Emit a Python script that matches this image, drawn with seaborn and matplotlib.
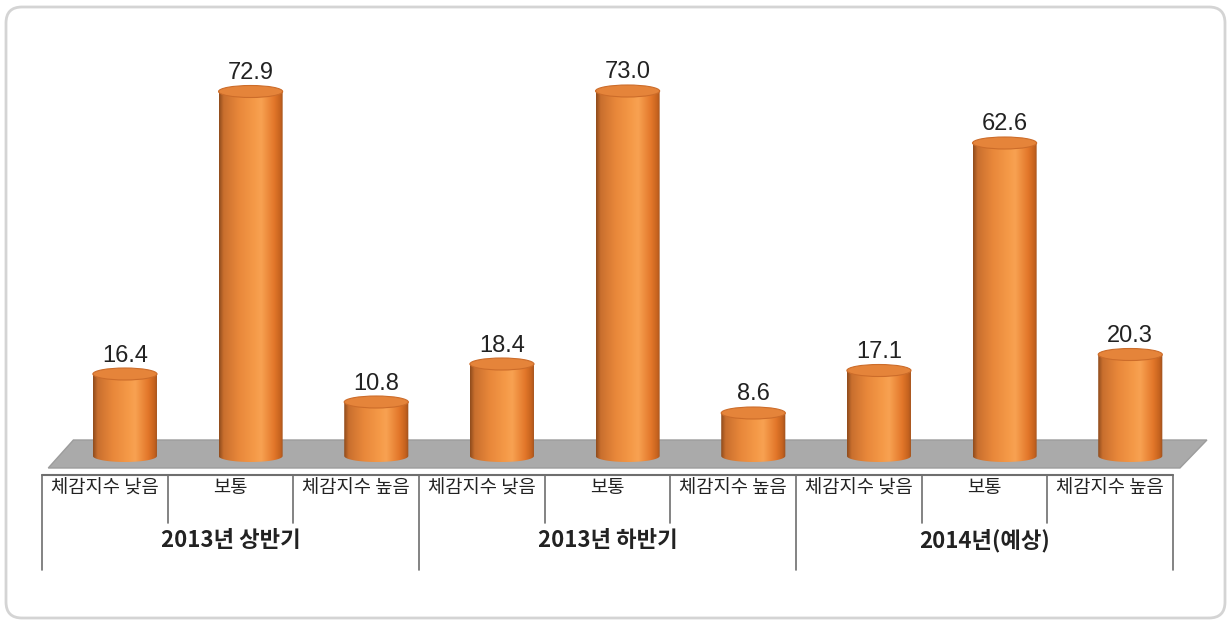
import numpy as np
import pandas as pd
import matplotlib
matplotlib.use('Agg')
import matplotlib.pyplot as plt
from matplotlib.patches import Ellipse, Polygon, FancyBboxPatch
from matplotlib.colors import LinearSegmentedColormap
import seaborn as sns

# data
groups = ['2013년 상반기', '2013년 하반기', '2014년(예상)']
levels = ['체감지수 낮음', '보통', '체감지수 높음']
values_2013_h1 = [16.4, 72.9, 10.8]
values_2013_h2 = [18.4, 73.0, 8.6]
values_2014 = [17.1, 62.6, 20.3]

rows = []
for g, vals in zip(groups, [values_2013_h1, values_2013_h2, values_2014]):
    for lv, v in zip(levels, vals):
        rows.append({'group': g, 'level': lv, 'key': g + '|' + lv, 'value': v})
df = pd.DataFrame(rows)

W, H = 1231, 625
sns.set_theme(style='white')
plt.rcParams['font.family'] = ['Noto Sans CJK KR', 'DejaVu Sans']

fig = plt.figure(figsize=(W / 100, H / 100), dpi=100)

# background with rounded frame (pixel coords)
bg = fig.add_axes([0, 0, 1, 1])
bg.set_xlim(0, W)
bg.set_ylim(H, 0)
bg.axis('off')
bg.add_patch(FancyBboxPatch((6, 7), W - 12, H - 14,
                            boxstyle='round,pad=0,rounding_size=16',
                            fc='white', ec='#d4d4d4', lw=2))

# main axes: 42..1173 px wide, 30..475 px tall
ax = fig.add_axes([42 / W, (H - 475) / H, 1131 / W, 445 / H])
sns.barplot(data=df, x='key', y='value', order=list(df['key']), width=0.51,
            color='#e8832f', errorbar=None, ax=ax, zorder=3)

shift = 0.16      # bars sit a bit right of the category centre (3D depth)
y_axis = -3.8     # data value at the category axis line
eh = 2.4          # ellipse height in data units

# floor
floor = Polygon([(-0.61, -2.4), (8.395, -2.4), (8.61, 3.2), (-0.41, 3.2)],
                closed=True, fc='#aaaaaa', ec='#9c9c9c', lw=1, zorder=1, clip_on=False)
ax.add_patch(floor)

cmap = LinearSegmentedColormap.from_list('cyl', [
    (0.0, '#8e4a1c'), (0.07, '#c96f2e'), (0.3, '#e8873a'), (0.55, '#f59a48'),
    (0.65, '#f8a252'), (0.85, '#e3772a'), (0.95, '#c4621e'), (1.0, '#9a4f1e')])
grad = np.linspace(0, 1, 256).reshape(1, -1)

for bar, v in zip(ax.patches, df['value']):
    x0 = bar.get_x()
    w = bar.get_width()
    h = bar.get_height()
    cx = x0 + w / 2
    bar.set_visible(False)
    t = np.linspace(np.pi, 2 * np.pi, 40)
    bottom = np.column_stack([cx + w / 2 * np.cos(t), eh / 2 * np.sin(t)])
    body = np.vstack([[[x0, h]], bottom, [[x0 + w, h]]])
    clip = Polygon(body, closed=True, transform=ax.transData, fc='none', ec='none')
    ax.add_patch(clip)
    im = ax.imshow(grad, cmap=cmap, extent=[x0, x0 + w, -eh / 2, h],
                   aspect='auto', zorder=3, interpolation='bicubic')
    im.set_clip_path(clip)
    ax.add_patch(Ellipse((cx, h), w, eh, fc='#e5843a', ec='#cc6c2a', lw=0.8, zorder=4))
    ax.text(cx, h + 2.5, f'{v:.1f}', ha='center', va='baseline', fontsize=17,
            family='Liberation Sans', color='#222222', zorder=5)

n = len(df)
ax.set_xlim(-0.5 - shift, n - 0.5 - shift)
ax.set_ylim(y_axis, 85.2)
ax.axis('off')

# category axis with grouped labels
ax.plot([-0.5 - shift, n - 0.5 - shift], [y_axis, y_axis], color='#6e6e6e', lw=1.5, clip_on=False)
for k in range(n + 1):
    bx = k - 0.5 - shift
    ybot = -22.8 if k % 3 == 0 else -13.4
    ax.plot([bx, bx], [y_axis, ybot], color='#6e6e6e', lw=1.2, clip_on=False)
for i, lv in enumerate(df['level']):
    ax.text(i - shift, -6.4, lv, ha='center', va='center', fontsize=13.5, color='#222222')
for j, g in enumerate(groups):
    ax.text(3 * j + 1 - shift, -16.9, g, ha='center', va='center', fontsize=16,
            fontweight='bold', color='#222222')

fig.savefig('out.png', dpi=100)
